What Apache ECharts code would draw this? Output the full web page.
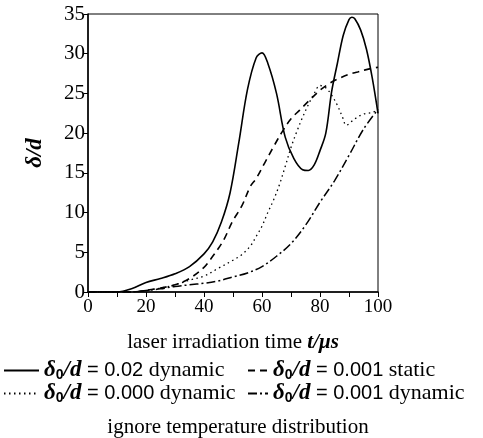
<!DOCTYPE html>
<html>
<head>
<meta charset="utf-8">
<script src="https://cdn.jsdelivr.net/npm/echarts@6/dist/echarts.min.js"></script>
<style>
  html, body { margin: 0; padding: 0; background: #fff; }
  #main { width: 483px; height: 438px; }
</style>
</head>
<body>
<div id="main"></div>
<script>
// delta0/d = 0.02 dynamic (solid)
var tSolid = [0, 10, 15, 20, 25, 30, 35, 40, 43, 46, 49, 52, 55, 58, 60, 62, 65, 68, 71, 74, 76, 78, 80, 82, 84, 86, 88, 90, 91, 92, 94, 96, 98, 100];
var vSolid = [0, 0, 0.4, 1.2, 1.7, 2.3, 3.2, 4.8, 6.3, 8.8, 12.5, 18.8, 25.5, 29.5, 30.1, 28.8, 25, 19.5, 16.8, 15.4, 15.3, 16, 17.8, 20, 25.2, 28.8, 32.3, 34.3, 34.6, 34.4, 33, 30.6, 27, 22.5];
// delta0/d = 0.001 static (dashed)
var tStatic = [0, 15, 20, 25, 30, 35, 40, 42, 45, 47, 50, 53, 56, 58, 61, 64, 67, 70, 73, 76, 80, 83, 86, 90, 93, 96, 100];
var vStatic = [0, 0, 0.2, 0.5, 0.9, 1.7, 3.1, 4, 5.5, 6.7, 9, 10.8, 13.3, 14.3, 16.3, 18.3, 20.2, 21.8, 22.9, 24, 25.4, 26.2, 26.8, 27.4, 27.7, 28, 28.3];
// delta0/d = 0.000 dynamic (dotted)
var tZero = [0, 15, 20, 25, 30, 35, 40, 45, 50, 53, 56, 58, 60, 62, 64, 66, 68, 70, 72, 74, 76, 78, 80, 82, 84, 86, 88, 89, 92, 95, 98, 100];
var vZero = [0, 0, 0.2, 0.5, 0.9, 1.5, 2.0, 3.0, 4.0, 4.7, 5.8, 7.0, 8.3, 10, 11.6, 13.5, 15.8, 18.2, 20.2, 22, 23.6, 25, 26, 25.7, 24.8, 23.5, 21.8, 21, 21.8, 22.4, 22.6, 23];
// delta0/d = 0.001 dynamic (dash-dot)
var tSmall = [0, 15, 20, 25, 30, 35, 40, 45, 50, 55, 60, 65, 70, 75, 80, 85, 90, 95, 100];
var vSmall = [0, 0, 0.2, 0.4, 0.7, 0.9, 1.1, 1.4, 1.9, 2.4, 3.2, 4.5, 6.1, 8.4, 11.3, 14, 17.2, 20.5, 23];

var seriesNames = ['s1', 's2', 's3', 's4'];
var coefLabels = ['0.02', '0.001', '0.000', '0.001'];
var modeLabels = ['dynamic', 'static', 'dynamic', 'dynamic'];

function pairs(t, v) {
  var out = [];
  for (var i = 0; i < t.length; i++) out.push([t[i], v[i]]);
  return out;
}

var chart = echarts.init(document.getElementById('main'));
var serif = 'Liberation Serif';

var legendRich = {
  g: { fontFamily: serif, fontStyle: 'italic', fontWeight: 'bold', fontSize: 23, color: '#000' },
  sub: { fontFamily: 'Liberation Sans', fontWeight: 'bold', fontSize: 14, color: '#000', verticalAlign: 'bottom', padding: [9, 0, 0, 0] },
  num: { fontFamily: 'Liberation Sans', fontSize: 20, color: '#000' },
  w: { fontFamily: serif, fontSize: 22, color: '#000' }
};

function legendFmt(name) {
  var i = seriesNames.indexOf(name);
  return '{g|δ}{sub|0}{g|/d}{num| = ' + coefLabels[i] + '}{w| ' + modeLabels[i] + '}';
}

var lineTypes = ['solid', [7, 5], [1.5, 3.5], [9, 3, 2, 3]];
var lineWidths = [1.6, 1.6, 1.3, 1.5];
var dataSets = [pairs(tSolid, vSolid), pairs(tStatic, vStatic), pairs(tZero, vZero), pairs(tSmall, vSmall)];

var series = [];
for (var i = 0; i < 4; i++) {
  series.push({
    name: seriesNames[i],
    type: 'line',
    smooth: 0.35,
    symbol: 'none',
    lineStyle: { color: '#000', width: lineWidths[i], type: lineTypes[i] },
    itemStyle: { color: '#000' },
    data: dataSets[i]
  });
}

var option = {
  animation: false,
  grid: {
    left: 88, right: 105, top: 14, bottom: 146,
    show: true, borderColor: '#000', borderWidth: 1
  },
  xAxis: {
    type: 'value',
    min: 0, max: 100, interval: 10,
    name: 'laser irradiation time {it|t/μs}',
    nameLocation: 'middle',
    nameGap: 40,
    nameTextStyle: {
      fontFamily: serif, fontSize: 21, color: '#000',
      rich: { it: { fontFamily: serif, fontStyle: 'italic', fontWeight: 'bold', fontSize: 21, color: '#000' } }
    },
    axisLine: { lineStyle: { color: '#000', width: 1.5 } },
    axisTick: { length: 5, lineStyle: { color: '#000' } },
    axisLabel: {
      fontFamily: serif, fontSize: 19, color: '#000', margin: 6,
      formatter: function (v) { return v % 20 === 0 ? v : ''; }
    },
    splitLine: { show: false }
  },
  yAxis: {
    type: 'value',
    min: 0, max: 35, interval: 5,
    name: 'δ/d',
    nameLocation: 'middle',
    nameRotate: 90,
    nameGap: 41,
    nameTextStyle: { fontFamily: serif, fontStyle: 'italic', fontWeight: 'bold', fontSize: 23, color: '#000' },
    axisLine: { lineStyle: { color: '#000', width: 1.5 } },
    axisTick: { length: 4, lineStyle: { color: '#000' } },
    axisLabel: { fontFamily: serif, fontSize: 21, color: '#000', margin: 3 },
    splitLine: { show: false }
  },
  legend: [
    {
      data: ['s1', 's3'], orient: 'vertical', left: 3, top: 359, padding: 0,
      itemWidth: 35, itemHeight: 14, itemGap: 0,
      itemStyle: { opacity: 0 },
      formatter: legendFmt, textStyle: { rich: legendRich }
    },
    {
      data: ['s2', 's4'], orient: 'vertical', left: 247, top: 359, padding: 0,
      itemWidth: 20, itemHeight: 14, itemGap: 0,
      itemStyle: { opacity: 0 },
      formatter: legendFmt, textStyle: { rich: legendRich }
    }
  ],
  title: {
    text: 'ignore temperature distribution',
    left: 233, textAlign: 'center', top: 412,
    textStyle: { fontFamily: serif, fontSize: 21, fontWeight: 'normal', color: '#000' }
  },
  series: series
};

chart.setOption(option);
</script>
</body>
</html>
